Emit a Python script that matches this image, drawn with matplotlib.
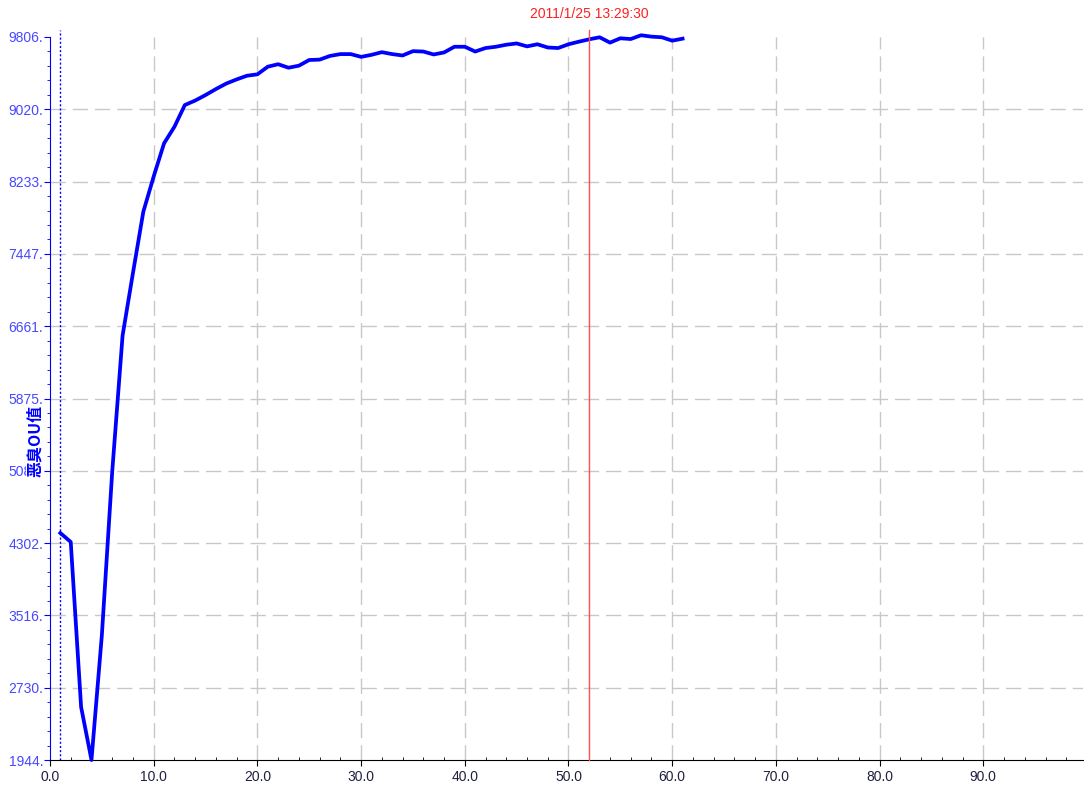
import numpy as np
import matplotlib
matplotlib.use('Agg')
import matplotlib.pyplot as plt
import matplotlib.transforms as mtransforms

# data
x_vals = list(range(1, 62))
y_vals = [4412, 4315, 2520, 1944, 3300, 5080, 6560, 7240, 7906, 8290,
          8650, 8830, 9066, 9115, 9175, 9240, 9300, 9345, 9385, 9400,
          9483, 9510, 9472, 9494, 9556, 9560, 9600, 9620, 9620, 9590,
          9612, 9641, 9620, 9605, 9652, 9648, 9616, 9638, 9700, 9700,
          9648, 9686, 9700, 9722, 9736, 9704, 9727, 9692, 9686, 9727,
          9755, 9781, 9803, 9745, 9792, 9784, 9825, 9810, 9803, 9766,
          9788]

y_ticks = np.linspace(1944, 9806, 11)
y_labels = ['1944.', '2730.', '3516.', '4302.', '5088.', '5875.',
            '6661.', '7447.', '8233.', '9020.', '9806.']
x_ticks = np.arange(0, 100, 10)
x_labels = ['%.1f' % v for v in x_ticks]

cursor_x = 52
cursor_text = '2011/1/25 13:29:30'
marker_x = 1
y_title = '恶臭OU值'

plt.rcParams['font.family'] = ['Liberation Sans', 'DejaVu Sans']

fig = plt.figure(figsize=(10.84, 7.87), dpi=100)
ax = fig.add_axes([50 / 1084, 1 - 760 / 787, 1033 / 1084, 723 / 787])

ax.set_xlim(0, 1033 / 10.37)
ax.set_ylim(1944, 9806)

# grid (no line on the top edge)
for gx in x_ticks[1:]:
    ax.axvline(gx, color='#c8c8c8', lw=1.0, dashes=(11, 5), zorder=0)
for gy in y_ticks[1:-1]:
    ax.axhline(gy, color='#c8c8c8', lw=1.0, dashes=(11, 5), zorder=0)

ax.plot(x_vals, y_vals, color='#0000ff', lw=2.7, zorder=3, clip_on=False)

trans = mtransforms.blended_transform_factory(ax.transData, ax.transAxes)
ax.plot([marker_x, marker_x], [0, 1.009], color='#0000ff', lw=1.0,
        ls=(0, (1.5, 1.5)), transform=trans, clip_on=False, zorder=2)
ax.plot([cursor_x, cursor_x], [0, 1.01], color='#ff5050', lw=1.0,
        transform=trans, clip_on=False, zorder=4)
ax.text(cursor_x, 1.032, cursor_text, color='#ff2020', fontsize=10,
        ha='center', va='center', transform=trans)

# spines
for s in ['top', 'right']:
    ax.spines[s].set_visible(False)
ax.spines['left'].set_color('#0000ff')
ax.spines['bottom'].set_color('black')

ax.set_yticks(y_ticks)
ax.set_yticklabels(y_labels)
ax.set_yticks(np.linspace(1944, 9806, 51), minor=True)
ax.set_xticks(x_ticks)
ax.set_xticklabels(x_labels)
ax.set_xticks(np.arange(0, 100, 2), minor=True)

ax.tick_params(axis='y', which='major', colors='#0000ff', labelcolor='#4848ff',
               length=4, pad=1, labelsize=10)
ax.tick_params(axis='y', which='minor', colors='#0000ff', length=2)
ax.tick_params(axis='x', which='major', colors='black', labelcolor='#202040',
               length=4, pad=3, labelsize=10)
ax.tick_params(axis='x', which='minor', colors='black', length=2, direction='in')

# y title sits over the middle tick label, as in the source chart
ax.text(-15 / 1033, (760 - 441) / 723, y_title, rotation=90,
        color='#0000ff', fontsize=11.5, fontweight='bold', ha='center',
        va='center', transform=ax.transAxes,
        family=['Noto Sans CJK SC', 'DejaVu Sans'],
        bbox=dict(facecolor='white', edgecolor='none', pad=0.5), zorder=5)

plt.savefig('out.png', dpi=100)
